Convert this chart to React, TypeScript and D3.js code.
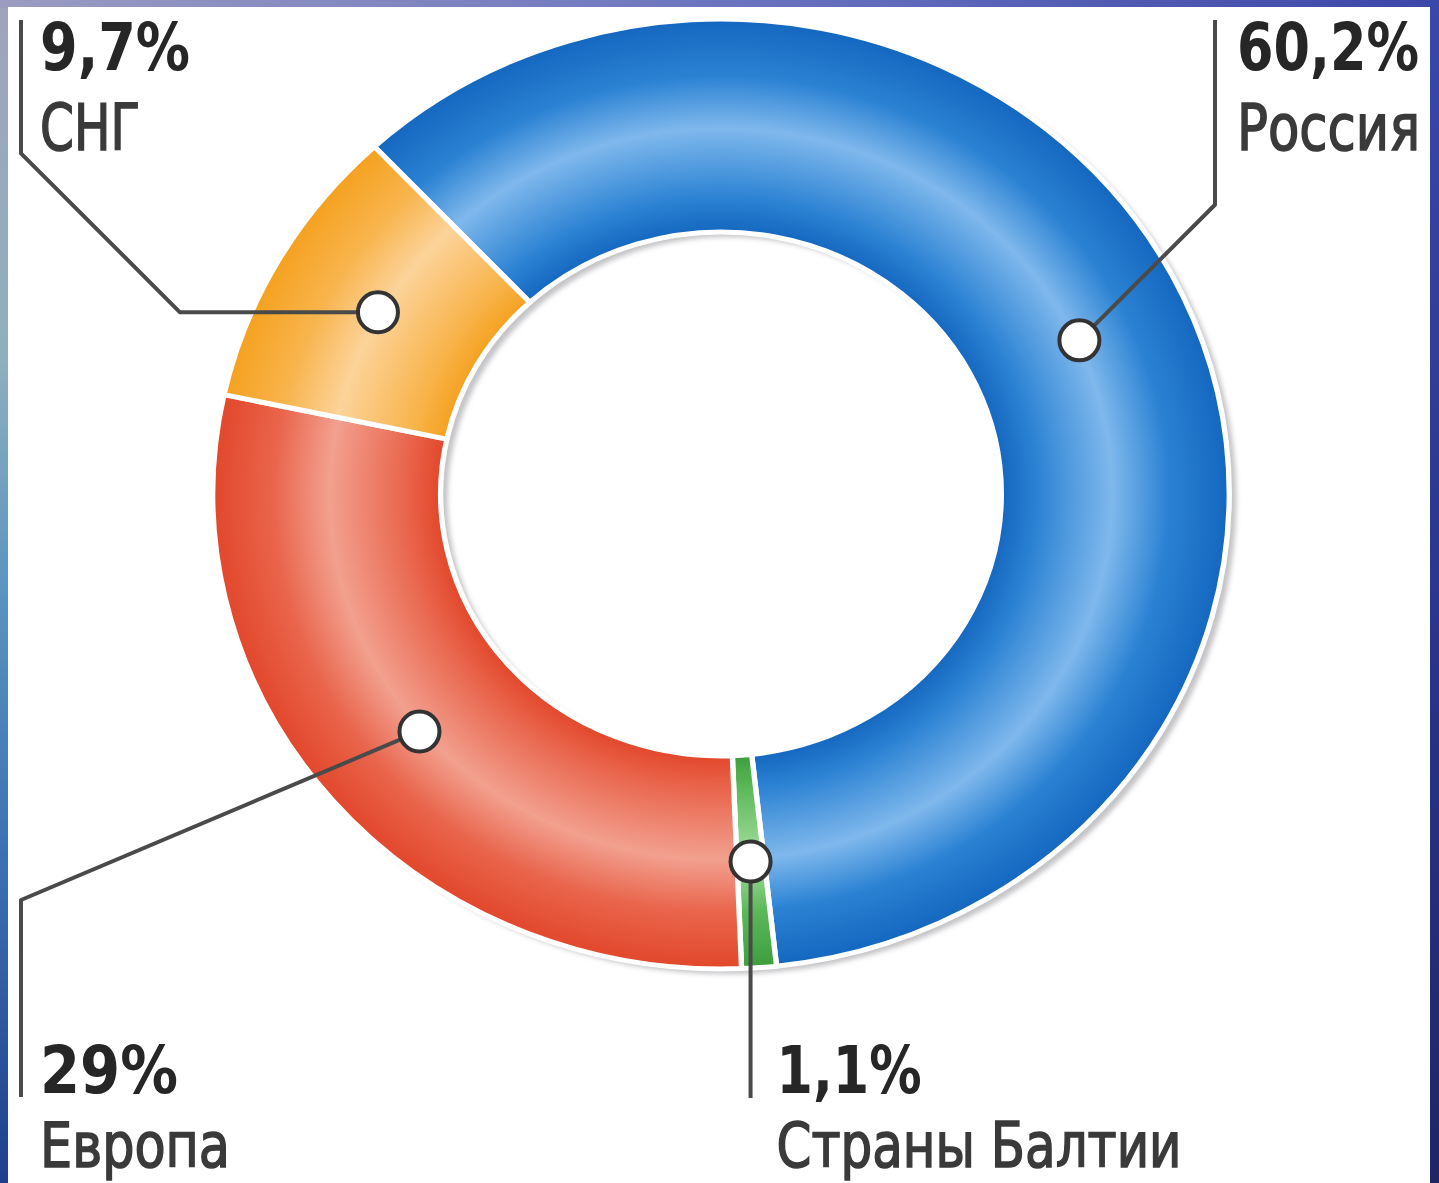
import React from 'react';
import * as d3 from 'd3';

// ---- data ----
const categories = ['Россия', 'Страны Балтии', 'Европа', 'СНГ'];
const shares = [60.2, 1.1, 29, 9.7];
const shareLabels = ['60,2%', '1,1%', '29%', '9,7%'];

// ---- styling ----
const palettes = [
  { edge: '#1467bf', mid: '#2b82d3', light: '#7fb8ec' }, // blue
  { edge: '#3d9e3c', mid: '#5cb85a', light: '#a8e0a0' }, // green
  { edge: '#e2472b', mid: '#e9654c', light: '#f2a08f' }, // red
  { edge: '#f5a11f', mid: '#f8b44c', light: '#fcd39a' }, // orange
];

const W = 1439;
const H = 1183;
const CX = 721;
const CY = 494;
const SX = 1.07;
const R_IN = 262;
const R_OUT = 475;
const R_MID = (R_IN + R_OUT) / 2;
const START = (-43 * Math.PI) / 180;

const FONT = "'Liberation Sans Narrow','DejaVu Sans Condensed','Arial Narrow','Liberation Sans',sans-serif";

type LabelLayout = {
  x: number;
  sx: number;
  pctY: number;
  nameY: number;
  pctW: number;
  nameW: number;
  nameSize: number;
};

export default function App() {
  const pie = d3
    .pie<number>()
    .sort(null)
    .value((d) => d)
    .startAngle(START)
    .endAngle(START + 2 * Math.PI);
  const arcsData = pie(shares);
  const arcGen = d3.arc<d3.PieArcDatum<number>>().innerRadius(R_IN).outerRadius(R_OUT);
  const midArc = d3.arc<d3.PieArcDatum<number>>().innerRadius(R_MID).outerRadius(R_MID);
  const ringGen = d3.arc<any>().innerRadius(R_IN).outerRadius(R_OUT).startAngle(0).endAngle(2 * Math.PI);

  const dots = arcsData.map((a) => {
    const [x, y] = midArc.centroid(a);
    return [CX + x * SX, CY + y] as [number, number];
  });

  const line = d3.line();
  const leaders: [number, number][][] = [
    [dots[0], [1215, dots[0][1] - (1215 - dots[0][0])], [1215, 20]],
    [dots[1], [dots[1][0], 1098]],
    [dots[2], [21, 900], [21, 1097]],
    [dots[3], [180, dots[3][1]], [21, dots[3][1] - 159], [21, 20]],
  ];

  const layouts: LabelLayout[] = [
    { x: 1237, sx: 0.86, pctY: 70, nameY: 150, pctW: 182, nameW: 183, nameSize: 64 },
    { x: dots[1][0] + 26, sx: 1, pctY: 1093, nameY: 1167, pctW: 145, nameW: 405, nameSize: 62 },
    { x: 40, sx: 1, pctY: 1093, nameY: 1167, pctW: 138, nameW: 190, nameSize: 62 },
    { x: 40, sx: 1, pctY: 70, nameY: 150, pctW: 150, nameW: 100, nameSize: 64 },
  ];

  const f = R_IN / R_OUT;

  return (
    <svg
      width={W}
      height={H}
      viewBox={`0 0 ${W} ${H}`}
      style={{ position: 'absolute', left: 0, top: 0, display: 'block' }}
    >
      <defs>
        <linearGradient id="frameLeft" x1="0" y1="0" x2="0" y2="1">
          <stop offset="0" stopColor="#9fa3bd" />
          <stop offset="0.3" stopColor="#8fb0bf" />
          <stop offset="0.5" stopColor="#5a94c0" />
          <stop offset="0.75" stopColor="#3a6cb0" />
          <stop offset="1" stopColor="#1f3f8c" />
        </linearGradient>
        <linearGradient id="frameTop" x1="0" y1="0" x2="1" y2="0">
          <stop offset="0" stopColor="#9a9cc0" />
          <stop offset="0.5" stopColor="#6c74c0" />
          <stop offset="1" stopColor="#3c46a8" />
        </linearGradient>
        <linearGradient id="frameRight" x1="0" y1="0" x2="0" y2="1">
          <stop offset="0" stopColor="#3a48a8" />
          <stop offset="0.5" stopColor="#2a3690" />
          <stop offset="1" stopColor="#1e2668" />
        </linearGradient>
        {palettes.map((p, i) => (
          <radialGradient key={i} id={`ring${i}`} gradientUnits="userSpaceOnUse" cx="0" cy="0" r={R_OUT}>
            <stop offset={f} stopColor={p.edge} />
            <stop offset={f + 0.07} stopColor={p.mid} />
            <stop offset={0.77} stopColor={p.light} />
            <stop offset={0.88} stopColor={p.mid} />
            <stop offset={1} stopColor={p.edge} />
          </radialGradient>
        ))}
        <filter id="shadowBlur" x="-10%" y="-10%" width="120%" height="120%">
          <feGaussianBlur stdDeviation="2.5" />
        </filter>
      </defs>

      {/* slide frame */}
      <rect x={0} y={0} width={W} height={H} fill="#2f3f98" />
      <rect x={0} y={0} width={10} height={H} fill="url(#frameLeft)" />
      <rect x={0} y={0} width={W} height={8} fill="url(#frameTop)" />
      <rect x={1428} y={0} width={11} height={H} fill="url(#frameRight)" />
      <rect x={8} y={7} width={1422} height={H - 7} fill="#ffffff" />

      {/* ring shadow */}
      <g transform={`translate(${CX + 7},${CY + 5}) scale(${SX},1)`} filter="url(#shadowBlur)">
        <path d={ringGen({}) as string} fill="#c4c4c8" />
      </g>

      {/* ring */}
      <g transform={`translate(${CX},${CY}) scale(${SX},1)`}>
        {arcsData.map((a, i) => (
          <path
            key={categories[i]}
            d={arcGen(a) as string}
            fill={`url(#ring${i})`}
            stroke="#ffffff"
            strokeWidth={5}
            strokeLinejoin="round"
          />
        ))}
      </g>

      {/* leaders */}
      {leaders.map((pts, i) => (
        <path
          key={`l${i}`}
          d={line(pts) as string}
          fill="none"
          stroke="#4a4a4a"
          strokeWidth={4}
          strokeLinejoin="round"
        />
      ))}
      {dots.map((d, i) => (
        <circle key={`d${i}`} cx={d[0]} cy={d[1]} r={20} fill="#ffffff" stroke="#333333" strokeWidth={4} />
      ))}

      {/* labels */}
      {layouts.map((L, i) => (
        <g key={`t${i}`} fontFamily={FONT}>
          <g transform={`translate(${L.x},${L.pctY}) scale(${L.sx},1)`}>
            <text
              x={0}
              y={0}
              fontSize={66}
              fontWeight="bold"
              fill="#262626"
              textLength={L.pctW / L.sx}
              lengthAdjust="spacingAndGlyphs"
            >
              {shareLabels[i]}
            </text>
          </g>
          <g transform={`translate(${L.x},${L.nameY}) scale(${L.sx},1)`}>
            <text
              x={0}
              y={0}
              fontSize={L.nameSize}
              fontWeight="normal"
              fill="#3a3a3a"
              stroke="#3a3a3a"
              strokeWidth={1.5}
              textLength={L.nameW / L.sx}
              lengthAdjust="spacingAndGlyphs"
            >
              {categories[i]}
            </text>
          </g>
        </g>
      ))}
    </svg>
  );
}
